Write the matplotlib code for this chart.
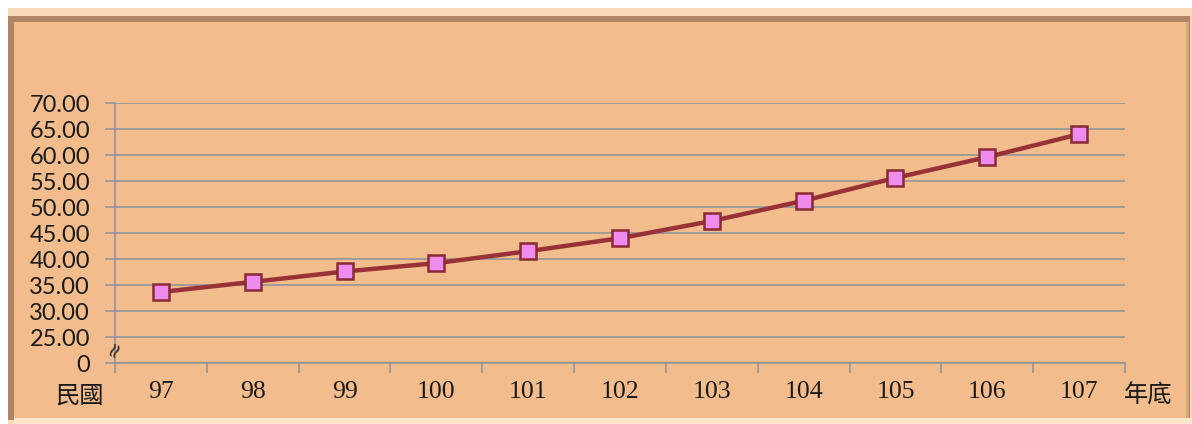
import matplotlib
matplotlib.use("Agg")
import matplotlib.pyplot as plt
from matplotlib.patches import Rectangle

years = ["97", "98", "99", "100", "101", "102", "103", "104", "105", "106", "107"]
values = [33.65, 35.6, 37.6, 39.2, 41.5, 44.0, 47.3, 51.2, 55.6, 59.6, 64.0]
ytick_vals = [20, 25, 30, 35, 40, 45, 50, 55, 60, 65, 70]
ytick_labels = ["0", "25.00", "30.00", "35.00", "40.00", "45.00", "50.00",
                "55.00", "60.00", "65.00", "70.00"]

W, H = 1192, 424
fig = plt.figure(figsize=(W / 100, H / 100), dpi=100, facecolor="white")

# frame background
bg = "#F2BC8D"
def frect(x0, y0, w, h, color):
    fig.patches.append(Rectangle((x0 / W, 1 - (y0 + h) / H), w / W, h / H,
                                 transform=fig.transFigure, facecolor=color,
                                 edgecolor="none", zorder=-5))

frect(8, 8, 1184, 416, "#F7D9B8")
frect(8, 16, 1182, 404, "#B08565")
frect(14, 22, 1172, 396, bg)
frect(1186, 22, 3, 396, "#D9A57A")
frect(14, 418, 1178, 6, "#FBE6CC")

ax = fig.add_axes([115 / W, 1 - 363 / H, 1010 / W, 260 / H])
ax.set_facecolor("none")

x = list(range(len(years)))
ax.plot(x, values, color="#983237", lw=3.2, zorder=3,
        marker="s", markersize=11.5, markerfacecolor="#EE8CEE",
        markeredgecolor="#8A2A35", markeredgewidth=1.8)

ax.set_xlim(-0.5, len(years) - 0.5)
ax.set_ylim(20, 70)
ax.set_yticks(ytick_vals)
ax.set_yticklabels(ytick_labels, fontsize=17, family=["Lato", "DejaVu Sans"],
                   color="#1a1a1a")
ax.yaxis.grid(True, color="#8A929C", lw=1.1, zorder=1)
ax.set_axisbelow(True)

ax.set_xticks([i - 0.5 for i in range(len(years) + 1)])
ax.set_xticklabels([])
ax.set_xticks(x, minor=True)
ax.set_xticklabels(years, minor=True, fontsize=18.5,
                   family=["Liberation Serif"], color="#1a1a1a")
ax.tick_params(axis="x", which="minor", length=0, pad=13)
ax.tick_params(axis="x", which="major", length=7, color="#8A929C", width=1.1)
ax.tick_params(axis="y", length=7, color="#8A929C", width=1.1, pad=11)

for s in ["top", "right"]:
    ax.spines[s].set_visible(False)
ax.spines["left"].set_color("#8A929C")
ax.spines["bottom"].set_color("#8A929C")
ax.spines["left"].set_linewidth(1.1)
ax.spines["bottom"].set_linewidth(1.1)

# axis break mark
ax.text(-0.5, 22.8, "≈", rotation=65, fontsize=15, ha="center", va="center",
        color="#333333", transform=ax.transData, clip_on=False)

fig.text(79 / W, 1 - 396 / H, "民國", fontsize=17.5,
         family=["Noto Sans CJK TC", "DejaVu Sans"], ha="center", va="center",
         color="#1a1a1a")
fig.text(1148 / W, 1 - 396 / H, "年底", fontsize=17.5,
         family=["Noto Sans CJK TC", "DejaVu Sans"], ha="center", va="center",
         color="#1a1a1a")

fig.savefig("out.png", dpi=100, facecolor="white")
